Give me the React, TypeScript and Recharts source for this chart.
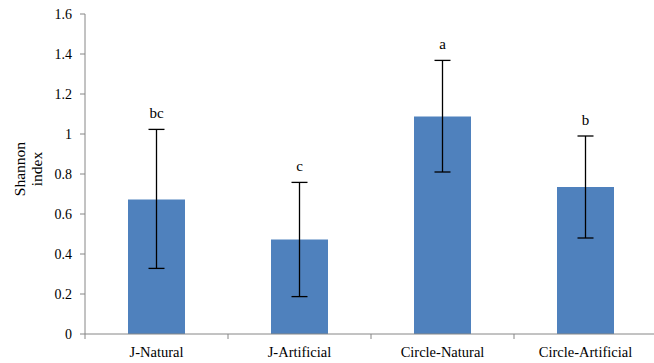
import React from 'react';
import {
  Bar,
  ComposedChart,
  ErrorBar,
  Line,
  XAxis,
  YAxis,
} from 'recharts';

const categories = ['J-Natural', 'J-Artificial', 'Circle-Natural', 'Circle-Artificial'];
const means = [0.673, 0.473, 1.087, 0.735];
const upper = [1.023, 0.758, 1.368, 0.99];
const lower = [0.328, 0.187, 0.81, 0.48];
const letters = ['bc', 'c', 'a', 'b'];
const yTicks = [0, 0.2, 0.4, 0.6, 0.8, 1, 1.2, 1.4, 1.6];

const data = categories.map((name, i) => ({
  name,
  mean: means[i],
  hi: upper[i],
  err: [means[i] - lower[i], upper[i] - means[i]],
  letter: letters[i],
}));

const CHART_W = 660;
const CHART_H = 363;
const MARGIN = { top: 14, right: 3, bottom: 0, left: 0 };
const Y_W = 85;
const HALF_BAND = (CHART_W - MARGIN.right - MARGIN.left - Y_W) / categories.length / 2;
const AXIS_GRAY = '#868686';
const FONT = 'Liberation Serif';

const XTick = (props: any) => {
  const { x, y, payload } = props;
  const axisY = y - 13;
  return (
    <g>
      <line x1={x - HALF_BAND} x2={x - HALF_BAND} y1={axisY} y2={axisY + 5} stroke={AXIS_GRAY} />
      <text x={x} y={axisY + 23} textAnchor='middle' style={{ fontFamily: FONT, fontSize: 14.5 }} fill='#000'>
        {payload.value}
      </text>
    </g>
  );
};

const YTick = (props: any) => {
  const { x, y, payload } = props;
  return (
    <text x={x} y={y} dy={5} textAnchor='end' style={{ fontFamily: FONT, fontSize: 14 }} fill='#000'>
      {String(payload.value)}
    </text>
  );
};

const renderLetter = (props: any) => {
  const { x, y, index } = props;
  return (
    <text key={index} x={x} y={y - 11} textAnchor='middle' style={{ fontFamily: FONT, fontSize: 15 }} fill='#000'>
      {letters[index]}
    </text>
  );
};

const YTitle = () => (
  <text transform='translate(25,169) rotate(-90)' textAnchor='middle' style={{ fontFamily: FONT, fontSize: 15.5 }} fill='#000'>
    <tspan x={0} dy={0}>Shannon</tspan>
    <tspan x={0} dy={17}>index</tspan>
  </text>
);

const App = () => {
  return (
    <div style={{ position: 'absolute', left: 0, top: 0, width: 654, height: 363, overflow: 'hidden', background: '#fff', fontFamily: FONT }}>
      <ComposedChart width={CHART_W} height={CHART_H} data={data} margin={MARGIN}>
        <XAxis
          dataKey='name'
          height={29}
          tickLine={false}
          tickSize={5}
          tickMargin={8}
          axisLine={{ stroke: AXIS_GRAY }}
          tick={<XTick />}
          interval={0}
        />
        <YAxis
          width={Y_W}
          domain={[0, 1.6]}
          ticks={yTicks}
          tickSize={5}
          tickMargin={8}
          axisLine={{ stroke: AXIS_GRAY }}
          tickLine={{ stroke: AXIS_GRAY }}
          tick={<YTick />}
          interval={0}
        />
        <Bar dataKey='mean' fill='#4f81bd' barSize={57} isAnimationActive={false}>
          <ErrorBar dataKey='err' width={8} strokeWidth={1.3} stroke='#000' direction='y' isAnimationActive={false} />
        </Bar>
        <Line
          dataKey='hi'
          stroke='none'
          dot={false}
          activeDot={false}
          label={renderLetter}
          isAnimationActive={false}
        />
        <YTitle />
      </ComposedChart>
    </div>
  );
};

export default App;
